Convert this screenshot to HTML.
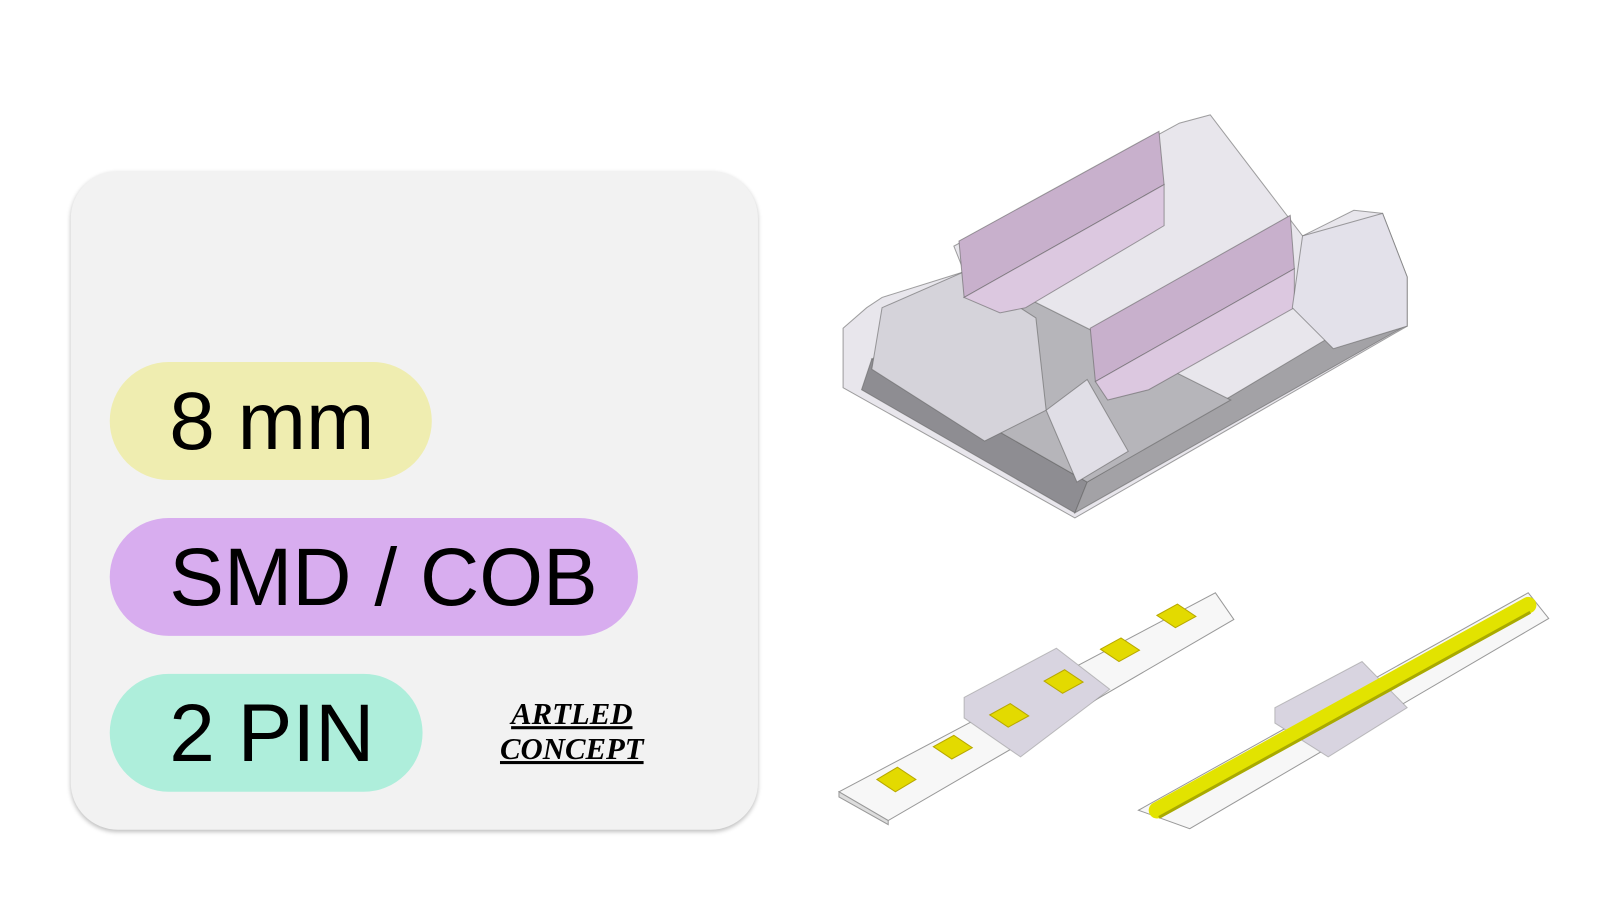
<!DOCTYPE html>
<html><head><meta charset="utf-8"><style>
html,body{margin:0;padding:0;background:#fff;width:1600px;height:900px;overflow:hidden}
#wrap{position:absolute;left:0;top:0;width:1560px;height:878px;transform:scale(1.02564);transform-origin:0 0}
.card{position:absolute;left:69px;top:167px;width:670px;height:642px;background:#f2f2f2;border-radius:46px;box-shadow:0 2px 4px rgba(0,0,0,.25)}
.pill{position:absolute;left:107px;height:115px;border-radius:58px;font-family:"Liberation Sans",sans-serif;font-size:80px;line-height:115px;color:#000;padding-left:58px;box-sizing:border-box}
.logo{position:absolute;left:470px;width:175px;text-align:center;font-family:"Liberation Serif",serif;font-style:italic;font-weight:bold;font-size:30px;text-decoration:underline;line-height:34px;color:#000}
svg{position:absolute;left:0;top:0}
</style></head><body>
<div id="wrap">
<div class="card"></div>
<div class="pill" style="top:353px;width:314px;background:#efedb0">8 mm</div>
<div class="pill" style="top:505px;width:515px;background:#d8adef">SMD / COB</div>
<div class="pill" style="top:657px;width:305px;background:#aeeedb">2 PIN</div>
<div class="logo" style="top:680px">ARTLED<br>CONCEPT</div>
<svg width="1560" height="878" viewBox="0 0 1560 878">
<g stroke="#666" stroke-width="1" stroke-opacity=".6">
<polygon points="822,320 822,378 1048,505 1372,318 1372,270 1348,208 1320,205 1270,230 1180,112 1150,120 930,240 940,265 860,290 845,300" fill="#e8e6ec"/>
<polygon points="840,380 1048,500 1060,470 850,350" fill="#8e8d92"/>
<polygon points="1060,470 1048,500 1370,318 1370,285" fill="#a3a2a6"/>
<polygon points="850,350 1060,470 1200,390 990,285" fill="#b6b5ba"/>
<polygon points="860,300 940,265 1010,310 1020,400 960,430 850,360" fill="#d5d3da"/>
<polygon points="1020,400 1050,470 1100,440 1060,370" fill="#e0dee6"/>
<polygon points="935,235 1130,128 1135,180 940,290" fill="#c8b0cc"/>
<polygon points="940,290 1135,180 1135,220 1000,300 975,305" fill="#dcc8e0"/>
<polygon points="1063,320 1258,210 1262,262 1068,372" fill="#c8b0cc"/>
<polygon points="1068,372 1262,262 1262,300 1120,380 1080,390" fill="#dcc8e0"/>
<polygon points="1270,230 1348,208 1372,270 1372,318 1300,340 1260,300" fill="#e3e1ea"/>
</g>
<g stroke="#999" stroke-width="1">
<polygon points="818,772 1185,578 1203,604 866,800" fill="#f7f7f7"/>
<polygon points="818,772 866,800 866,804 818,777" fill="#ddd"/>
<polygon points="940,680 1030,632 1082,672 995,738 940,700" fill="#d8d4e0" stroke-opacity=".6"/>
</g>
<g fill="#e3da00" stroke="#b8a800">
<polygon points="855,760 875,748 893,760 873,772"/>
<polygon points="910,728 930,717 948,729 928,740"/>
<polygon points="1073,633 1093,622 1111,634 1091,645"/>
<polygon points="1128,600 1148,589 1166,601 1146,612"/>
<polygon points="965,697 985,686 1003,698 983,709"/>
<polygon points="1018,664 1038,653 1056,665 1036,676"/>
</g>
<g stroke="#999" stroke-width="1">
<polygon points="1110,790 1490,578 1510,603 1160,808" fill="#f7f7f7"/>
<polygon points="1243,690 1328,645 1372,690 1295,738 1243,705" fill="#d8d4e0" stroke-opacity=".6"/>
</g>
<polyline points="1128,790 1490,590" stroke="#e2e300" stroke-width="16" stroke-linecap="round" fill="none"/>
<polyline points="1130,797 1492,597" stroke="#a9aa00" stroke-width="3" fill="none"/>
</svg>
</div>
</body></html>
